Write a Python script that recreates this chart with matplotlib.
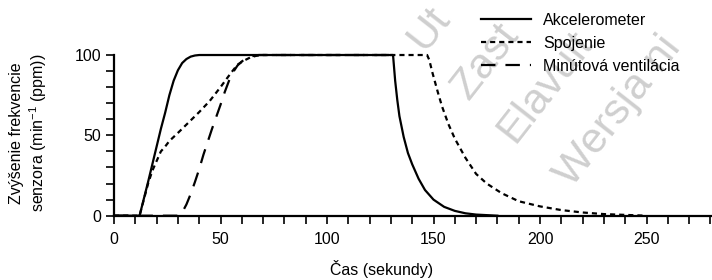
"""Sensor rate increase over time (accelerometer / combined / minute ventilation)."""

import matplotlib

matplotlib.use("Agg")
import matplotlib.pyplot as plt
from matplotlib.ticker import MultipleLocator

plt.rcParams["font.family"] = ["Liberation Sans", "DejaVu Sans"]
plt.rcParams["mathtext.fontset"] = "custom"
plt.rcParams["mathtext.rm"] = "Liberation Sans"
plt.rcParams["mathtext.it"] = "Liberation Sans"

# data
accel_t = [0, 12, 14, 16, 18, 20, 22, 24, 26, 28, 30, 32, 34, 36, 38, 40,
           131, 132, 133, 134, 136, 138, 140, 143, 146, 150, 155, 160, 165, 170, 180]
accel_v = [0, 0, 10.5, 21, 32, 43, 54, 64, 75, 84, 90.5, 95, 97.5, 99, 99.7, 100,
           100, 84, 72, 62, 49, 39, 32, 23, 16, 10, 5.5, 3, 1.5, 0.7, 0]

combo_t = [0, 12, 14, 16, 18, 20, 22, 24, 26, 28, 30, 35, 40, 45, 50, 55, 58, 61, 64, 67, 70,
           147, 148, 149.5, 152, 154, 157, 160, 165, 170, 175, 182, 190, 200, 210, 220, 230, 240, 250]
combo_v = [0, 0, 10, 20, 28, 34, 40, 43, 46.5, 49, 51.5, 58, 64.5, 71.5, 80, 89, 94, 96.5, 98.5, 99.6, 100,
           100, 97, 89, 77, 68, 57, 48, 36, 26, 20, 14, 9, 5.8, 3.5, 2, 1, 0.5, 0]

mv_t = [0, 30, 32, 34, 36, 38, 40, 42, 44, 46, 48, 50, 52, 54, 56, 58, 60, 62, 65, 68, 130]
mv_v = [0, 0, 2, 7, 13.5, 21, 29, 38, 46, 54, 61.5, 69, 77, 84, 89.5, 93.5, 96, 97.8, 99.3, 100, 100]

labels = ["Akcelerometer", "Spojenie", "Minútová ventilácia"]
# visible parts of the diagonal watermark
watermarks = ["Ut", "Zast", "Elavult", "Wersja ni"]

W, H = 712, 280
fig = plt.figure(figsize=(W / 100, H / 100), dpi=100)
ax = fig.add_axes([114 / W, (H - 215.7) / H, 1 - 114 / W, (215.7 - 51.8) / H])
ax.set_zorder(1)
ax.patch.set_visible(False)

lw = 1.6
ax.plot(accel_t, accel_v, color="black", lw=lw, label=labels[0], clip_on=False)
ax.plot(combo_t, combo_v, color="black", lw=lw, ls=(0, (2.3, 1.8)), label=labels[1], clip_on=False)
ax.plot(mv_t, mv_v, color="black", lw=lw, ls=(0, (6.5, 4.5)), label=labels[2], clip_on=False)

ax.set_xlim(0, (W - 114) / 2.13)
ax.set_ylim(0, 102)
ax.xaxis.set_major_locator(MultipleLocator(50))
ax.xaxis.set_minor_locator(MultipleLocator(10))
ax.yaxis.set_major_locator(MultipleLocator(50))
ax.yaxis.set_minor_locator(MultipleLocator(10))
for side in ("top", "right"):
    ax.spines[side].set_visible(False)
for side in ("left", "bottom"):
    ax.spines[side].set_linewidth(1.6)
ax.spines["left"].set_bounds(0, 100)
ax.tick_params(which="both", direction="out", length=5.5, width=1.2, labelsize=11.5, pad=3.5)
ax.tick_params(axis="x", which="both", pad=6.5)

ax.legend(loc="upper left", bbox_to_anchor=(481 / W, 1 - 13 / H), bbox_transform=fig.transFigure,
          frameon=False, fontsize=11.5, handlelength=3.1, handletextpad=0.8,
          labelspacing=0.5, borderpad=0, borderaxespad=0)

fig.text(29 / W, 1 - 133 / H, "Zvýšenie frekvencie\nsenzora (min$^{-1}$ (ppm))",
         rotation=90, ha="center", va="center", multialignment="center",
         fontsize=11.5, linespacing=1.15)
fig.text(382 / W, 1 - 269 / H, "Čas (sekundy)", ha="center", va="center", fontsize=11.5)

for text, (px, py) in zip(watermarks, [(425, 52), (469, 101), (515, 144), (572, 188)]):
    fig.text(px / W, 1 - py / H, text, rotation=52, rotation_mode="anchor",
             ha="left", va="baseline", fontsize=31, color="#cfcfcf", zorder=0.5)

fig.savefig("out.png", dpi=100)
